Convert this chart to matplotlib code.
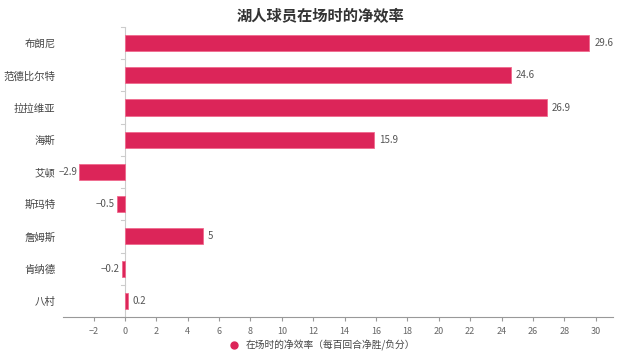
import matplotlib
matplotlib.use("Agg")
import matplotlib.pyplot as plt
from matplotlib.lines import Line2D

plt.rcParams['font.family'] = ['Noto Sans CJK SC', 'DejaVu Sans']

# -------- data --------
players = ['布朗尼', '范德比尔特', '拉拉维亚', '海斯', '艾顿', '斯玛特', '詹姆斯', '肯纳德', '八村']
net_rating = [29.6, 24.6, 26.9, 15.9, -2.9, -0.5, 5, -0.2, 0.2]
x_ticks = list(range(-2, 31, 2))
bar_color = '#dc2559'

fig = plt.figure(figsize=(6.4, 3.56), dpi=100)
ax = fig.add_axes([0.0984, 0.1096, 0.8594, 0.8146])

pos = list(range(len(players)))
ax.barh(pos, net_rating, height=0.5, color=bar_color, edgecolor='#f06a8e', linewidth=0.6, zorder=3)

for p, v in zip(pos, net_rating):
	txt = f'{v:g}'.replace('-', '−')
	if v >= 0:
		ax.text(v + 0.3, p, txt, va='center', ha='left', fontsize=7, color='#555555')
	else:
		ax.text(v - 0.15, p, txt, va='center', ha='right', fontsize=7, color='#555555')

ax.set_ylim(len(players) - 0.5, -0.5)
ax.set_xlim(-3.95, 31.1)
ax.set_yticks(pos)
ax.set_yticklabels(players, fontsize=7.5, color='#444444')
ax.set_xticks(x_ticks)
ax.set_xticklabels([str(t).replace('-', '−') for t in x_ticks], fontsize=6.5, color='#666666')

# y axis line at zero, category boundary ticks
ax.axvline(0, color='#cccccc', linewidth=0.8, zorder=2)
for b in range(len(players) + 1):
	ax.plot([-0.25, 0], [b - 0.5, b - 0.5], color='#cccccc', linewidth=0.8, clip_on=False, zorder=2)

for s in ['top', 'right', 'left']:
	ax.spines[s].set_visible(False)
ax.spines['bottom'].set_color('#999999')
ax.spines['bottom'].set_linewidth(0.8)
ax.tick_params(axis='y', length=0, pad=5.5)
ax.tick_params(axis='x', length=3, color='#999999', pad=4)

fig.text(0.5, 0.955, '湖人球员在场时的净效率', ha='center', va='center', fontsize=11, fontweight='bold', color='#333333')

handle = Line2D([], [], marker='o', linestyle='none', color=bar_color, markersize=5)
fig.legend([handle], ['在场时的净效率（每百回合净胜/负分）'], loc='center', bbox_to_anchor=(0.5, 0.03),
	frameon=False, fontsize=7, handletextpad=0.2, labelcolor='#444444')

fig.savefig('out.png', dpi=100)
